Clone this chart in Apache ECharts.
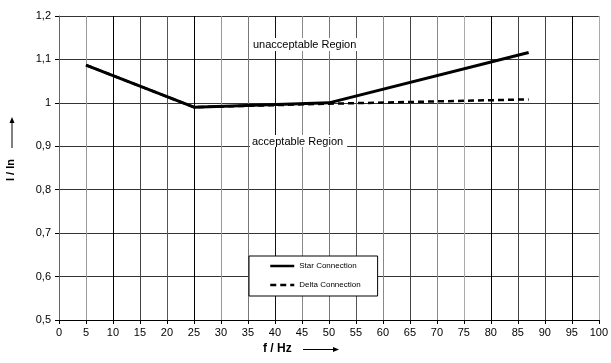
<!DOCTYPE html>
<html><head><meta charset="utf-8">
<script src="https://cdn.jsdelivr.net/npm/echarts@6/dist/echarts.min.js"></script>
<style>html,body{margin:0;padding:0;background:#fff}#c{width:611px;height:363px}</style>
</head><body><div id="c"></div>
<script>
const freqStar = [5, 25, 50, 87];
const starValues = [1.087, 0.990, 1.000, 1.116];
const freqDelta = [5, 25, 50, 87];
const deltaValues = [1.087, 0.990, 0.998, 1.008];
const xTicks = [0,5,10,15,20,25,30,35,40,45,50,55,60,65,70,75,80,85,90,95,100];
const yTicks = [0.5,0.6,0.7,0.8,0.9,1.0,1.1,1.2];
const seriesNames = ['Star Connection', 'Delta Connection'];
const regionLabels = ['unacceptable Region', 'acceptable Region'];
const xName = 'f / Hz';
const yName = 'I / In';

const vColors = ['#555','#999','#000','#444','#555','#000','#999','#777','#111','#888','#777','#555','#888','#444','#888','#aaa','#000','#444','#444','#000','#aaa'];
const font = 'Liberation Sans, Arial, sans-serif';

const chart = echarts.init(document.getElementById('c'));
chart.setOption({
  animation: false,
  backgroundColor: '#fff',
  grid: {left: 59, right: 9, top: 16, bottom: 43, containLabel: false},
  xAxis: {
    type: 'value', min: 0, max: 100, interval: 5,
    axisLine: {show: true, lineStyle: {color: '#000', width: 1}},
    axisTick: {show: true, length: 4, lineStyle: {color: '#000'}},
    axisLabel: {color: '#000', fontSize: 11, fontFamily: font, margin: 7},
    splitLine: {show: true, lineStyle: {color: vColors, width: 1}}
  },
  yAxis: {
    type: 'value', min: 0.5, max: 1.2, interval: 0.1,
    axisLine: {show: true, lineStyle: {color: '#666', width: 1}},
    axisTick: {show: true, length: 4, lineStyle: {color: '#000'}},
    axisLabel: {color: '#000', fontSize: 11, fontFamily: font, margin: 8,
      formatter: v => {const r = Math.round(v*10)/10; return String(r).replace('.', ',');}},
    splitLine: {show: true, lineStyle: {color: '#333', width: 1}}
  },
  legend: {
    show: true, orient: 'vertical', left: 249, top: 256,
    padding: [6, 17, 7, 20], itemGap: 11, itemWidth: 24, itemHeight: 6,
    backgroundColor: '#fff', borderColor: '#000', borderWidth: 1, borderRadius: 0,
    textStyle: {fontSize: 8, fontFamily: font, color: '#000'},
    itemStyle: {opacity: 0},
    lineStyle: {width: 2.5},
    data: seriesNames
  },
  series: [
    {name: seriesNames[1], type: 'line', symbol: 'none', z: 2,
     data: freqDelta.map((f,i)=>[f, deltaValues[i]]),
     lineStyle: {color: '#000', width: 2.5, type: [6, 4]}, itemStyle: {color: '#000'}},
    {name: seriesNames[0], type: 'line', symbol: 'none', z: 3,
     data: freqStar.map((f,i)=>[f, starValues[i]]),
     lineStyle: {color: '#000', width: 3}, itemStyle: {color: '#000'}}
  ],
  graphic: [
    {type: 'text', left: 250, top: 38, z: 100,
     style: {text: regionLabels[0], fontSize: 11, fontFamily: font, fill: '#000',
       backgroundColor: '#fff', padding: [1, 3]}},
    {type: 'text', left: 250, top: 135, z: 100,
     style: {text: regionLabels[1], fontSize: 11, fontFamily: font, fill: '#000',
       backgroundColor: '#fff', padding: [1, 4, 0, 2]}},
    {type: 'text', x: 5, y: 181, rotation: Math.PI/2, z: 100,
     style: {text: yName, fontSize: 11, fontWeight: 'bold', fontFamily: font, fill: '#000', align: 'left', verticalAlign: 'top'}},
    {type: 'line', z: 100, shape: {x1: 12, y1: 148, x2: 12, y2: 121}, style: {stroke: '#000', lineWidth: 1}},
    {type: 'polygon', z: 100, shape: {points: [[12, 117], [9.5, 123], [14.5, 123]]}, style: {fill: '#000'}},
    {type: 'text', left: 263, top: 343, z: 100,
     style: {text: xName, fontSize: 12, fontWeight: 'bold', fontFamily: font, fill: '#000'}},
    {type: 'line', z: 100, shape: {x1: 303, y1: 349.5, x2: 334, y2: 349.5}, style: {stroke: '#000', lineWidth: 1}},
    {type: 'polygon', z: 100, shape: {points: [[339, 349.5], [333, 347], [333, 352]]}, style: {fill: '#000'}}
  ]
});
</script></body></html>
